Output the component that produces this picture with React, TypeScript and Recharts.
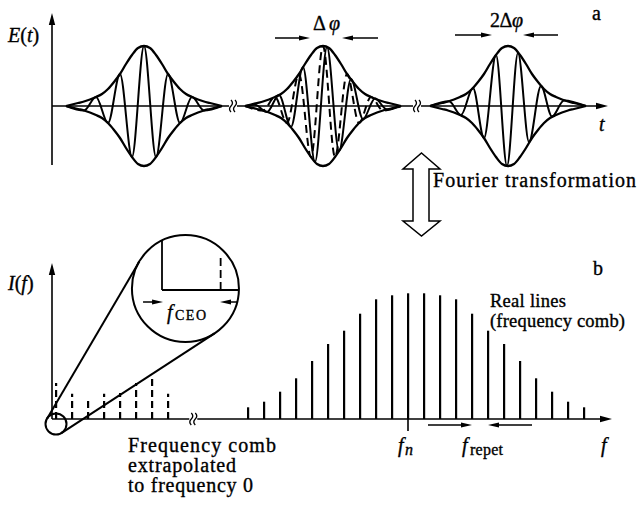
import React from 'react';
import { ComposedChart, Line, Bar, XAxis, YAxis, ReferenceLine, ReferenceDot } from 'recharts';

const W = 637;
const H = 508;
const INK = '#000';
const FONT = 'Liberation Serif';

// ---------- Panel a : pulse train E(t) ----------
const pulseCentres = [92, 271, 456];
// envelope half profile: offset from pulse centre -> amplitude
const envelopeOffsets = [0, 6, 12, 18, 24, 30, 36, 42, 48, 54, 60, 66, 72, 78];
const envelopeAmplitudes = [60, 58, 51, 42, 32, 24, 17, 12, 9, 6.5, 4.5, 3, 1.5, 0];
// carrier extrema (offset from centre, field value)
const carrier1Offsets = [-78, -60, -48, -36, -24, -12, 0, 12, 24, 36, 48, 60, 78];
const carrier1Values = [0, -4.5, 9, -17, 32, -51, 60, -51, 32, -17, 9, -4.5, 0];
const carrier2Offsets = [-78, -68, -56, -44, -32, -20, -8, 4, 16, 28, 40, 52, 64, 78];
const carrier2Values = [0, 1.2, -6, 11, -21, 39, -56, 59, -45, 27, -13, 7.5, -3.5, 0];
const carrier3Offsets = [-78, -59, -47, -35, -24, -12, -1, 10, 21, 33, 44, 56, 78];
const carrier3Values = [0, 4.7, -9, 18, -32, 51, -60, 53, -36, 20, -10.5, 5.5, 0];
const timeBreaks = [181, 365];

// ---------- Panel b : spectrum I(f) ----------
const fceoOffset = 0.25;
const realModes = [12, 13, 14, 15, 16, 17, 18, 19, 20, 21, 22, 23, 24, 25, 26, 27, 28, 29, 30, 31, 32, 33];
const realIntensities = [11.7, 17.3, 27.3, 40.7, 58, 75, 88.3, 105.3, 119.7, 123.7, 125.7, 125.7, 123.7, 119.7, 105.3, 88.3, 75, 58, 40.7, 27.3, 17.3, 11.7];
const extrapModes = [0, 1, 2, 3, 4, 5, 6, 7];
const extrapIntensities = [36, 25.3, 22, 25.3, 26, 36, 40, 25.3];
const markedMode = 22;
const freqBreak = 8.83;

// ---------- derived tables ----------
const envHalfNeg = envelopeOffsets.slice(1).reverse();
const envFullOffsets = [...envHalfNeg.map((o) => -o), ...envelopeOffsets];
const envFullAmps = [...envelopeAmplitudes.slice(1).reverse(), ...envelopeAmplitudes];

const seriesAt = (centre: number, offs: number[], vals: number[]) =>
  offs.map((o, i) => ({ t: centre + o, v: vals[i] }));

const combTable = [
  ...extrapModes.map((n, i) => ({ f: n + fceoOffset, intensity: extrapIntensities[i], kind: 'extrap' })),
  ...realModes.map((n, i) => ({ f: n + fceoOffset, intensity: realIntensities[i], kind: 'real' })),
];

// ---------- shapes ----------
const arrowShape = (headLen: number, headHalf: number, sw: number) => (p: any) => {
  const { x1, y1, x2, y2 } = p;
  const dx = x2 - x1;
  const dy = y2 - y1;
  const len = Math.hypot(dx, dy) || 1;
  const ux = dx / len;
  const uy = dy / len;
  const bx = x2 - ux * headLen;
  const by = y2 - uy * headLen;
  const px = -uy * headHalf;
  const py = ux * headHalf;
  return (
    <g>
      <line x1={x1} y1={y1} x2={bx + ux * 1} y2={by + uy * 1} stroke={INK} strokeWidth={sw} />
      <polygon points={`${x2},${y2} ${bx + px},${by + py} ${bx - px},${by - py}`} fill={INK} />
    </g>
  );
};
const axisArrow = arrowShape(12, 3.2, 1.6);
const smallArrow = arrowShape(11, 2.6, 1.5);

const plainLine = (sw: number, dash?: string) => (p: any) => (
  <line x1={p.x1} y1={p.y1} x2={p.x2} y2={p.y2} stroke={INK} strokeWidth={sw} strokeDasharray={dash} />
);

const breakMark = (p: any) => {
  const { cx, cy } = p;
  const s = (x: number) => `M${x},${cy - 6} q3,3 0,6 q-3,3 0,6`;
  return (
    <g>
      <path d={s(cx - 2)} stroke={INK} strokeWidth={1.3} fill="none" />
      <path d={s(cx + 2)} stroke={INK} strokeWidth={1.3} fill="none" />
    </g>
  );
};

const CombLine = (p: any) => {
  const { x, y, width, height, payload } = p;
  const cx = x + width / 2;
  const base = y + height;
  const dashed = payload && payload.kind === 'extrap';
  return (
    <line x1={cx} x2={cx} y1={base} y2={y} stroke={INK} strokeWidth={2.2} strokeDasharray={dashed ? '7 4' : undefined} />
  );
};

const seg = (key: string, a: [number, number], b: [number, number], shape: any) => (
  <ReferenceLine
    key={key}
    segment={[{ x: a[0], y: a[1] }, { x: b[0], y: b[1] }]}
    ifOverflow="visible"
    shape={shape}
    stroke={INK}
  />
);

function PanelA() {
  const lines: any[] = [];
  pulseCentres.forEach((c, k) => {
    const upper = seriesAt(c, envFullOffsets, envFullAmps);
    const lower = seriesAt(c, envFullOffsets, envFullAmps.map((a) => -a));
    lines.push(
      <Line key={`u${k}`} data={upper} dataKey="v" type="monotone" stroke={INK} strokeWidth={2.3} dot={false} isAnimationActive={false} />
    );
    lines.push(
      <Line key={`l${k}`} data={lower} dataKey="v" type="monotone" stroke={INK} strokeWidth={2.3} dot={false} isAnimationActive={false} />
    );
  });
  const c1 = seriesAt(pulseCentres[0], carrier1Offsets, carrier1Values);
  const c2ref = seriesAt(pulseCentres[1], carrier1Offsets, carrier1Values);
  const c2 = seriesAt(pulseCentres[1], carrier2Offsets, carrier2Values);
  const c3 = seriesAt(pulseCentres[2], carrier3Offsets, carrier3Values);
  return (
    <ComposedChart width={W} height={200} margin={{ top: 10, right: 25, bottom: 30, left: 52 }}>
      <XAxis type="number" dataKey="t" domain={[0, 560]} hide allowDataOverflow />
      <YAxis type="number" domain={[-64, 96]} hide allowDataOverflow />
      {seg('yax', [0, -59], [0, 93], axisArrow)}
      {seg('tax1', [0, 0], [timeBreaks[0] - 4, 0], plainLine(1.6))}
      {seg('tax2', [timeBreaks[0] + 4, 0], [timeBreaks[1] - 4, 0], plainLine(1.6))}
      {seg('tax3', [timeBreaks[1] + 4, 0], [556, 0], axisArrow)}
      {timeBreaks.map((b, i) => (
        <ReferenceDot key={`br${i}`} x={b} y={0} r={1} ifOverflow="visible" shape={breakMark} />
      ))}
      {lines}
      <Line data={c1} dataKey="v" type="monotone" stroke={INK} strokeWidth={2} dot={false} isAnimationActive={false} />
      <Line data={c2ref} dataKey="v" type="monotone" stroke={INK} strokeWidth={2} strokeDasharray="8 5" dot={false} isAnimationActive={false} />
      <Line data={c2} dataKey="v" type="monotone" stroke={INK} strokeWidth={2} dot={false} isAnimationActive={false} />
      <Line data={c3} dataKey="v" type="monotone" stroke={INK} strokeWidth={2} dot={false} isAnimationActive={false} />
      {seg('d1', [223, 68], [258, 68], smallArrow)}
      {seg('d2', [326, 68], [290, 68], smallArrow)}
      {seg('dd1', [403, 71], [440, 71], smallArrow)}
      {seg('dd2', [506, 71], [471, 71], smallArrow)}
    </ComposedChart>
  );
}

function PanelB() {
  return (
    <ComposedChart width={W} height={308} data={combTable} margin={{ top: 20, right: 25, bottom: 68, left: 52 }}>
      <XAxis type="number" dataKey="f" domain={[0, 35]} hide allowDataOverflow />
      <YAxis type="number" domain={[-21, 199]} hide allowDataOverflow />
      <Bar dataKey="intensity" shape={CombLine} isAnimationActive={false} />
      {seg('yax', [0, 0], [0, 156], axisArrow)}
      {seg('fax1', [0, 0], [freqBreak - 0.25, 0], plainLine(1.6))}
      {seg('fax2', [freqBreak + 0.25, 0], [35, 0], axisArrow)}
      <ReferenceDot x={freqBreak} y={0} r={1} ifOverflow="visible" shape={breakMark} />
      {seg('fn', [markedMode + fceoOffset, 0], [markedMode + fceoOffset, -12], plainLine(1.6))}
      {seg('fr1', [23.5, -6], [26.25, -6], smallArrow)}
      {seg('fr2', [30, -6], [27.25, -6], smallArrow)}
      {seg('tan1', [-0.31, 0.3], [5.46, 157.6], plainLine(2))}
      {seg('tan2', [0.61, -13.8], [10.16, 85.6], plainLine(2))}
      <ReferenceDot x={fceoOffset} y={-5} r={10.5} fill="none" stroke={INK} strokeWidth={2} ifOverflow="visible" />
      <ReferenceDot x={8.34} y={130.5} r={53.5} fill="none" stroke={INK} strokeWidth={2} ifOverflow="visible" />
      {seg('zv', [6.875, 178.6], [6.875, 129], plainLine(1.8))}
      {seg('zh', [6.875, 129], [11.69, 129], plainLine(1.8))}
      {seg('zd', [10.54, 129], [10.54, 161], plainLine(1.8, '8 4'))}
      {seg('za1', [5.69, 117], [6.94, 117], smallArrow)}
      {seg('za2', [11.63, 117], [10.5, 117], smallArrow)}
    </ComposedChart>
  );
}

function Overlay() {
  const t = (x: number, y: number, size: number, len: number | undefined, children: any, key: string) => (
    <text key={key} x={x} y={y} textLength={len} fontFamily={FONT} fontSize={size} fill={INK} stroke={INK} strokeWidth={0.35}>
      {children}
    </text>
  );
  return (
    <svg width={W} height={H} style={{ position: 'absolute', left: 0, top: 0, pointerEvents: 'none' }}>
      {t(8, 42, 20, undefined, [<tspan key="a" fontStyle="italic">E</tspan>, '(', <tspan key="b" fontStyle="italic">t</tspan>, ')'], 'Et')}
      {t(592, 20, 20, undefined, 'a', 'a')}
      {t(599, 131, 20, undefined, <tspan fontStyle="italic">t</tspan>, 't')}
      {t(313, 30, 20, 27, ['Δ', <tspan key="p" fontStyle="italic">φ</tspan>], 'dphi')}
      {t(490, 27, 20, 33, ['2Δ', <tspan key="p" fontStyle="italic">φ</tspan>], 'd2phi')}
      <polygon
        points="421.5,153 440,169 429,169 429,221 440,221 421.5,236 403,221 413,221 413,169 403,169"
        fill="#fff"
        stroke={INK}
        strokeWidth={1.5}
        strokeLinejoin="miter"
      />
      {t(433, 187, 20, 203, 'Fourier transformation', 'ft')}
      {t(593, 275, 20, undefined, 'b', 'b')}
      {t(8, 290, 20, undefined, [<tspan key="a" fontStyle="italic">I</tspan>, '(', <tspan key="b" fontStyle="italic">f</tspan>, ')'], 'If')}
      {t(490, 307, 18.5, 76, 'Real lines', 'rl')}
      {t(490, 327, 18.5, 135, '(frequency comb)', 'fc')}
      {t(167, 319, 20, undefined, <tspan fontStyle="italic">f</tspan>, 'fceo')}
      {t(175, 320, 14, 31, 'CEO', 'ceo')}
      {t(128, 452, 20, 148, 'Frequency comb', 'l1')}
      {t(128, 472, 20, 108, 'extrapolated', 'l2')}
      {t(128, 492, 20, 125, 'to frequency 0', 'l3')}
      {t(398, 452, 20, undefined, <tspan fontStyle="italic">f</tspan>, 'fn')}
      {t(405, 455, 16, undefined, <tspan fontStyle="italic">n</tspan>, 'fnn')}
      {t(462, 452, 20, undefined, <tspan fontStyle="italic">f</tspan>, 'frep')}
      {t(470, 455, 16, 33, 'repet', 'frepet')}
      {t(601, 452, 20, undefined, <tspan fontStyle="italic">f</tspan>, 'f')}
    </svg>
  );
}

export default function App() {
  return (
    <div style={{ position: 'absolute', left: 0, top: 0, width: W, height: H, background: '#fff', overflow: 'hidden' }}>
      <div style={{ position: 'absolute', left: 0, top: 0 }}>
        <PanelA />
      </div>
      <div style={{ position: 'absolute', left: 0, top: 200 }}>
        <PanelB />
      </div>
      <Overlay />
    </div>
  );
}
